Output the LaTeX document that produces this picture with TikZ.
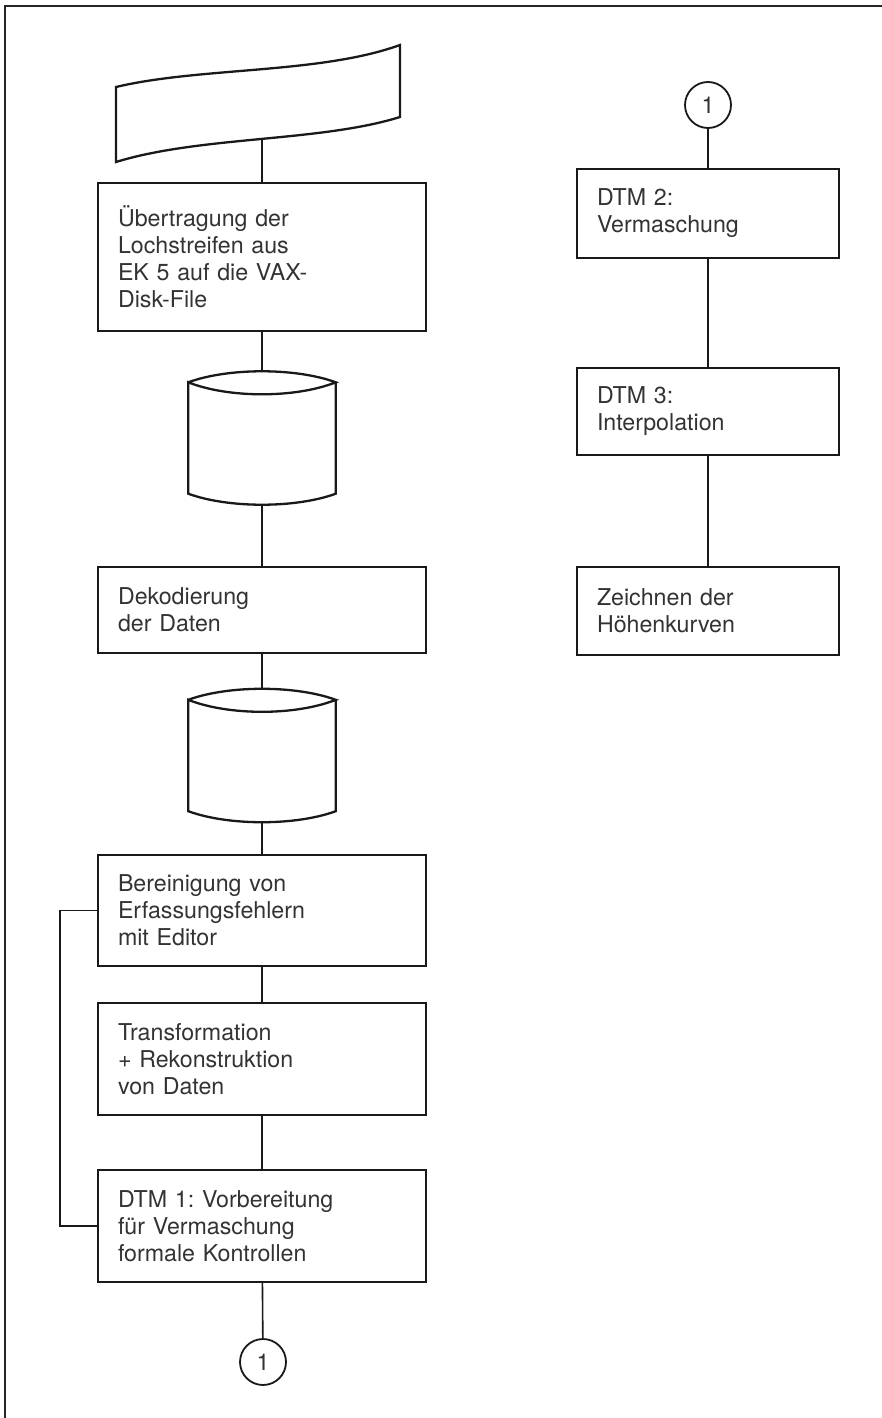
\documentclass[tikz,border=0pt]{standalone}
\usepackage{fontspec}
\setmainfont{TeX Gyre Heros}
\usepackage{tikz}
\usetikzlibrary{calc}
\frenchspacing

% Plattenspeicher (Zylinder) ueber einen unsichtbaren Knoten zeichnen
\newcommand{\plattenform}[1]{%
  \draw[kante, line join=miter]
    ($(#1.north west)+(0,11)$)
    .. controls ($(#1.north west)+(40,-3.7)$) and ($(#1.north east)+(-40,-3.7)$) .. ($(#1.north east)+(0,11)$)
    .. controls ($(#1.north east)+(-40,27)$) and ($(#1.north west)+(40,27)$) .. ($(#1.north west)+(0,11)$)
    -- ($(#1.south west)+(0,-11)$)
    .. controls ($(#1.south west)+(40,3.7)$) and ($(#1.south east)+(-40,3.7)$) .. ($(#1.south east)+(0,-11)$)
    -- ($(#1.north east)+(0,11)$);
}

\begin{document}
\begin{tikzpicture}[x=1pt, y=-1pt,
    kante/.style = {line width=2.3pt, black!90},
    linie/.style = {line width=1.6pt, black!90},
    schrift/.style = {font=\fontsize{23.2}{27}\selectfont, text=black!80},
    kasten/.style = {kante, draw, schrift, align=left, inner xsep=20pt, inner ysep=0pt},
    links/.style = {kasten, text width=288pt},
    rechts/.style = {kasten, text width=222pt},
    platte/.style = {minimum width=147pt, minimum height=133pt, inner sep=0pt},
    anschluss/.style = {circle, draw, line width=1.8pt, black!90, schrift, minimum size=46pt, inner sep=0pt}]

    \useasboundingbox (0,0) rectangle (882,1418);

    % Rahmen (nur oben und links sichtbar)
    \draw[line width=2.4pt, black!85] (5,1418) -- (5,6) -- (882,6);

    % Lochstreifen
    \draw[kante] (116,87) .. controls (200,67) and (320,74) .. (400,45)
        -- (400,117) .. controls (320,142) and (200,136) .. (116,162) -- cycle;
    \coordinate (streifen) at (262,139);

    % linke Spalte
    \node[links, minimum height=148pt] (uebertragung) at (262,257)
        {\"Ubertragung der\\Lochstreifen aus\\EK 5 auf die VAX-\\Disk-File};
    \node[platte] (platte1) at (262,438) {};
    \plattenform{platte1}
    \node[links, minimum height=86pt] (dekodierung) at (262,610)
        {Dekodierung\\der Daten};
    \node[platte] (platte2) at (262,755.5) {};
    \plattenform{platte2}
    \node[links, minimum height=111pt] (bereinigung) at (262,910.5)
        {Bereinigung von\\Erfassungsfehlern\\mit Editor};
    \node[links, minimum height=112pt] (transformation) at (262,1059)
        {Transformation\\+ Rekonstruktion\\von Daten};
    \node[links, minimum height=112pt] (vorbereitung) at (262,1226)
        {DTM 1: Vorbereitung\\f\"ur Vermaschung\\formale Kontrollen};
    \node[anschluss] (aus1) at (263,1362) {1};

    % rechte Spalte
    \node[anschluss] (ein1) at (708,105) {1};
    \node[rechts, minimum height=89pt] (vermaschung) at (708,213.5)
        {DTM 2:\\Vermaschung};
    \node[rechts, minimum height=87pt] (interpolation) at (708,411.5)
        {DTM 3:\\Interpolation};
    \node[rechts, minimum height=88pt] (zeichnen) at (708,611)
        {Zeichnen der\\H\"ohenkurven};

    % Verbindungen
    \draw[linie] (streifen) -- (uebertragung);
    \draw[linie] (uebertragung) -- (platte1);
    \draw[linie] (platte1) -- (dekodierung);
    \draw[linie] (dekodierung) -- (platte2);
    \draw[linie] (platte2) -- (bereinigung);
    \draw[linie] (bereinigung) -- (transformation);
    \draw[linie] (transformation) -- (vorbereitung);
    \draw[linie] (vorbereitung) -- (aus1);
    \draw[linie] (bereinigung.west) -- ++(-37,0) |- (vorbereitung.west); % Ruecksprung
    \draw[linie] (ein1) -- (vermaschung);
    \draw[linie] (vermaschung) -- (interpolation);
    \draw[linie] (interpolation) -- (zeichnen);

\end{tikzpicture}
\end{document}
